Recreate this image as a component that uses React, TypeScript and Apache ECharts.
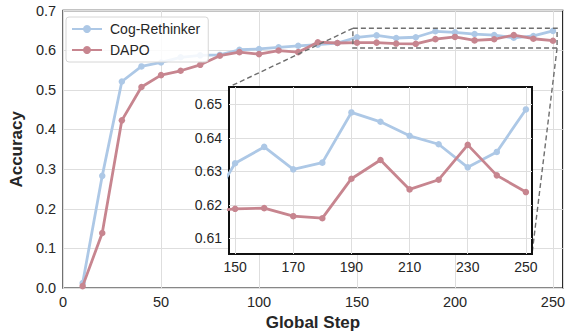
import React, { useEffect, useRef } from "react";
import * as echarts from "echarts";

const steps = [10, 20, 30, 40, 50, 60, 70, 80, 90, 100, 110, 120, 130, 140, 150, 160, 170, 180, 190, 200, 210, 220, 230, 240, 250];
const cogRethinker = [0.013, 0.283, 0.521, 0.559, 0.569, 0.582, 0.587, 0.588, 0.601, 0.603, 0.607, 0.611, 0.614, 0.618, 0.6324, 0.6373, 0.6306, 0.6326, 0.6476, 0.6448, 0.6406, 0.6381, 0.6312, 0.6358, 0.6485];
const dapo = [0.005, 0.139, 0.423, 0.507, 0.537, 0.548, 0.563, 0.586, 0.595, 0.59, 0.599, 0.595, 0.62, 0.618, 0.6188, 0.619, 0.6166, 0.616, 0.6278, 0.6334, 0.6246, 0.6275, 0.6379, 0.6288, 0.6238];
const seriesNames = ["Cog-Rethinker", "DAPO"];
const seriesColors = ["#adc8e6", "#c7858f"];
const mainXRange = [0, 255];
const mainYRange = [0, 0.7];
const mainXInterval = 50;
const mainYInterval = 0.1;
const insetXRange = [147.9, 252.1];
const insetYRange = [0.6053, 0.6552];
const insetXTicks = [150, 170, 190, 210, 230, 250];
const insetYTicks = [0.61, 0.62, 0.63, 0.64, 0.65];
const xAxisName = "Global Step";
const yAxisName = "Accuracy";

const FONT = "'Liberation Sans', Arial, Helvetica, sans-serif";
const TEXT = "#262626";
const GRIDLINE = "#dedede";

function makeSeries(name: string, values: number[], color: string, gi: number, z: number) {
  return {
    type: "line",
    name,
    xAxisIndex: gi,
    yAxisIndex: gi,
    z,
    data: steps.map((s, i) => [s, values[i]]),
    symbol: "circle",
    symbolSize: 6.5,
    showSymbol: true,
    clip: true,
    lineStyle: { color, width: 2.8 },
    itemStyle: { color },
    emphasis: { disabled: true },
  };
}

export default function App() {
  const ref = useRef<HTMLDivElement>(null);
  useEffect(() => {
    const chart = echarts.init(ref.current!, null, { renderer: "svg" });
    const option: any = {
      animation: false,
      backgroundColor: "#ffffff",
      textStyle: { fontFamily: FONT },
      legend: {
        data: seriesNames,
        orient: "vertical",
        left: 66,
        top: 17,
        itemWidth: 30,
        itemHeight: 10,
        itemGap: 7,
        padding: [5, 8, 5, 5],
        backgroundColor: "rgba(255,255,255,0.85)",
        borderColor: "#d6d6d6",
        borderWidth: 1,
        borderRadius: 3,
        textStyle: { fontFamily: FONT, fontSize: 14, color: TEXT, padding: [0, 0, 0, 3] },
      },
      grid: [
        { left: 60, right: 4, top: 10.5, bottom: 47.5, show: true, borderColor: "#111", borderWidth: 1.3, backgroundColor: "#fff", z: 0 },
        { left: 229, top: 87, width: 303, height: 167, show: true, borderColor: "#111", borderWidth: 2, backgroundColor: "#fff", z: 5 },
      ],
      xAxis: [
        {
          type: "value", gridIndex: 0, min: mainXRange[0], max: mainXRange[1], interval: mainXInterval,
          name: xAxisName, nameLocation: "middle", nameGap: 25,
          nameTextStyle: { fontFamily: FONT, fontSize: 17, fontWeight: "bold", color: TEXT },
          axisLine: { show: false }, axisTick: { show: false },
          axisLabel: { fontFamily: FONT, fontSize: 14.5, color: TEXT, margin: 6, showMaxLabel: false },
          splitLine: { show: true, lineStyle: { color: GRIDLINE, width: 1 } },
        },
        {
          type: "value", gridIndex: 1, min: insetXRange[0], max: insetXRange[1], z: 6,
          axisLine: { show: false },
          axisTick: { show: false, customValues: insetXTicks },
          axisLabel: { fontFamily: FONT, fontSize: 14, color: TEXT, margin: 6, customValues: insetXTicks },
          splitLine: { show: true, lineStyle: { color: GRIDLINE, width: 1 } },
        },
      ],
      yAxis: [
        {
          type: "value", gridIndex: 0, min: mainYRange[0], max: mainYRange[1], interval: mainYInterval,
          name: yAxisName, nameLocation: "middle", nameGap: 34,
          nameTextStyle: { fontFamily: FONT, fontSize: 17, fontWeight: "bold", color: TEXT },
          axisLine: { show: false }, axisTick: { show: false },
          axisLabel: { fontFamily: FONT, fontSize: 14.5, color: TEXT, margin: 7, formatter: (v: number) => v.toFixed(1) },
          splitLine: { show: true, lineStyle: { color: GRIDLINE, width: 1 } },
        },
        {
          type: "value", gridIndex: 1, min: insetYRange[0], max: insetYRange[1], z: 6,
          axisLine: { show: false },
          axisTick: { show: false, customValues: insetYTicks },
          axisLabel: { fontFamily: FONT, fontSize: 14, color: TEXT, margin: 7, customValues: insetYTicks, formatter: (v: number) => v.toFixed(2) },
          splitLine: { show: true, lineStyle: { color: GRIDLINE, width: 1 } },
        },
      ],
      series: [
        makeSeries(seriesNames[0], cogRethinker, seriesColors[0], 0, 2),
        makeSeries(seriesNames[1], dapo, seriesColors[1], 0, 3),
        makeSeries(seriesNames[0], cogRethinker, seriesColors[0], 1, 7),
        makeSeries(seriesNames[1], dapo, seriesColors[1], 1, 8),
      ],
    };
    chart.setOption(option);

    const a0 = chart.convertToPixel({ gridIndex: 0 } as any, [insetXRange[0], insetYRange[1]]) as number[];
    const a1 = chart.convertToPixel({ gridIndex: 0 } as any, [insetXRange[1], insetYRange[0]]) as number[];
    const b0 = chart.convertToPixel({ gridIndex: 1 } as any, [insetXRange[0], insetYRange[1]]) as number[];
    const b1 = chart.convertToPixel({ gridIndex: 1 } as any, [insetXRange[1], insetYRange[0]]) as number[];
    const dashStyle = { fill: "none", stroke: "#6e6e6e", lineWidth: 1.4, lineDash: [5, 3] };
    chart.setOption({
      graphic: [
        { type: "rect", z: 4, silent: true, shape: { x: a0[0], y: a0[1], width: a1[0] - a0[0], height: a1[1] - a0[1] }, style: dashStyle },
        { type: "line", z: 4, silent: true, shape: { x1: a0[0], y1: a0[1], x2: b0[0], y2: b0[1] }, style: dashStyle },
        { type: "line", z: 4, silent: true, shape: { x1: a1[0], y1: a1[1], x2: b1[0], y2: b1[1] }, style: dashStyle },
      ],
    });
    return () => chart.dispose();
  }, []);
  return <div ref={ref} style={{ position: "fixed", left: 0, top: 0, width: 568, height: 336 }} />;
}
